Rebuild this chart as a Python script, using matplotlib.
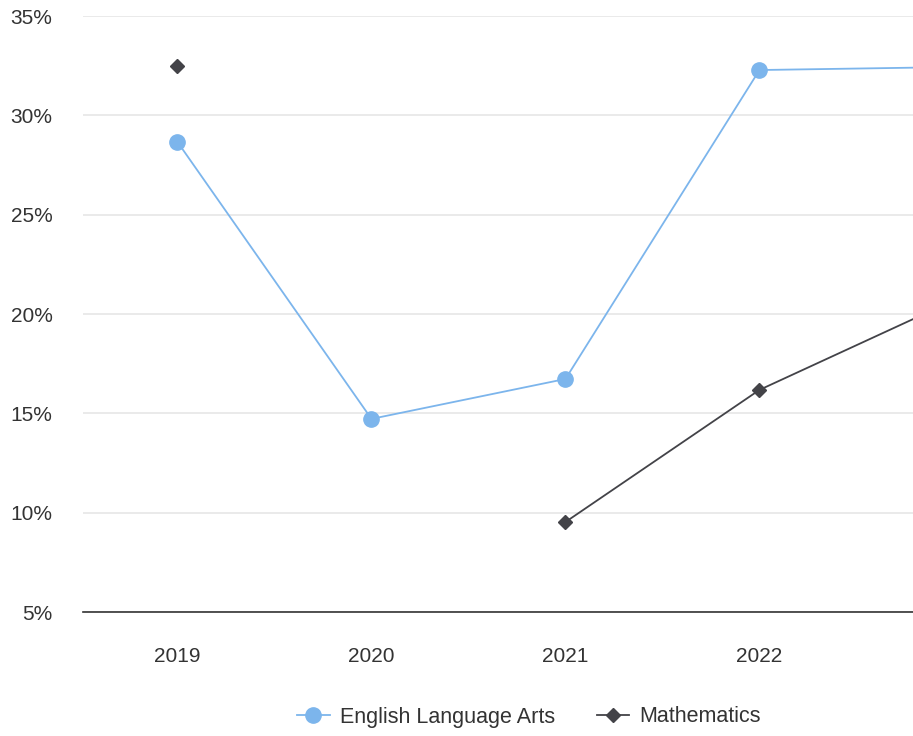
import matplotlib
matplotlib.use('Agg')
import matplotlib.pyplot as plt
import numpy as np
from matplotlib.ticker import FuncFormatter

plt.rcParams['font.family'] = ['Liberation Sans', 'DejaVu Sans']

years = ['2019', '2020', '2021', '2022', '2023']
ela = [28.66, 14.72, 16.73, 32.28, 32.43]
math_vals = [32.48, np.nan, 9.53, 16.18, 20.68]
yticks = [5, 10, 15, 20, 25, 30, 35]

fig = plt.figure(figsize=(9.13, 7.36), dpi=100)
ax = fig.add_axes([83/913, 1 - 612/736, 1 - 83/913, (612 - 16)/736])

x = np.arange(len(years))
ax.plot(x, ela, color='#7cb5ec', lw=1.3, marker='o', ms=11, label='English Language Arts', zorder=3)
ax.plot(x, math_vals, color='#434348', lw=1.3, marker='D', ms=7.5, label='Mathematics', zorder=3)

ax.set_yticks(yticks)
ax.yaxis.set_major_formatter(FuncFormatter(lambda v, p: f'{v:.0f}%'))
ax.set_xticks(x)
ax.set_xticklabels(years)
ax.set_xlim(-0.487, -0.487 + 830/194)
ax.set_ylim(5, 35)

ax.grid(axis='y', color='#e6e6e6', lw=1.2)
ax.set_axisbelow(True)
for s in ['top', 'right', 'left']:
    ax.spines[s].set_visible(False)
ax.spines['bottom'].set_color('#333333')
ax.spines['bottom'].set_linewidth(1.2)
ax.tick_params(axis='both', length=0, labelsize=15, colors='#333333')
ax.tick_params(axis='y', pad=22)
ax.tick_params(axis='x', pad=25)

fig.legend(loc='center', bbox_to_anchor=(529/913, 1 - 717/736), ncol=2, frameon=False,
           fontsize=15.5, labelcolor='#333333', handlelength=1.5, columnspacing=1.95,
           handletextpad=0.47)

fig.savefig('out.png', dpi=100)
